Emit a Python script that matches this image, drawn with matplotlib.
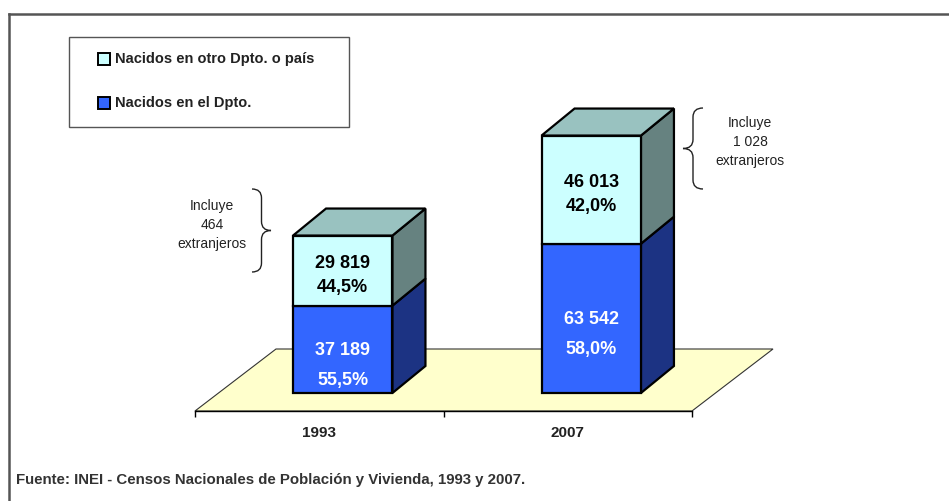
import numpy as np
import matplotlib.pyplot as plt
from matplotlib.patches import Polygon, Rectangle, PathPatch
from matplotlib.path import Path

# Poblacion censada por lugar de nacimiento
years = ['1993', '2007']
nacidos_dpto = np.array([37189, 63542])
nacidos_otro = np.array([29819, 46013])
pct_dpto = ['55,5%', '58,0%']
pct_otro = ['44,5%', '42,0%']
extranjeros = ['464', '1 028']

label_dpto = 'Nacidos en el Dpto.'
label_otro = 'Nacidos en otro Dpto. o país'
fuente = 'Fuente: INEI - Censos Nacionales de Población y Vivienda, 1993 y 2007.'

# colours (front, side, top)
C_OTRO = ('#CCFFFF', '#668280', '#99C2C0')
C_DPTO = ('#3366FF', '#1C3383', '#1C3383')
C_FLOOR = '#FFFFCC'
NARROW = ['Liberation Sans Narrow', 'Liberation Sans', 'DejaVu Sans']

W, H = 949, 501
fig = plt.figure(figsize=(W / 100, H / 100), dpi=100)

# background axes in pixel units for frame, legend, notes
bg = fig.add_axes([0, 0, 1, 1])
bg.set_xlim(0, W)
bg.set_ylim(H, 0)
bg.axis('off')

# main axes: x = category, y = persons
YMAX = 160000
ax = fig.add_axes([195 / W, (H - 411) / H, 497 / W, 376 / H])
ax.set_xlim(0, 2)
ax.set_ylim(0, YMAX)
ax.patch.set_visible(False)
px_x = 497 / 2
px_y = 376 / YMAX


def off(dx_px, dy_px):
    return dx_px / px_x, dy_px / px_y


# floor
fdx, fdy = off(81, 62)
ax.add_patch(Polygon([(0, 0), (2, 0), (2 + fdx, fdy), (fdx, fdy)], closed=True,
                     fc=C_FLOOR, ec='#333333', lw=0.8, clip_on=False, zorder=1))

bx0, by0 = off(23.5, 18)   # bar front sits a bit behind the floor edge
bdx, bdy = off(33, 27)     # bar depth
width = 0.4
pos = np.arange(len(years)) + 0.5


def block(xc, y0, y1, colors, with_top):
    xl = xc - width / 2 + bx0
    xr = xl + width
    b, t = y0 + by0, y1 + by0
    kw = dict(ec='black', lw=1.6, clip_on=False, zorder=3, joinstyle='miter')
    ax.add_patch(Polygon([(xr, b), (xr + bdx, b + bdy), (xr + bdx, t + bdy), (xr, t)],
                         closed=True, fc=colors[1], **kw))
    ax.add_patch(Rectangle((xl, b), width, y1 - y0, fc=colors[0], **kw))
    if with_top:
        ax.add_patch(Polygon([(xl, t), (xr, t), (xr + bdx, t + bdy), (xl + bdx, t + bdy)],
                             closed=True, fc=colors[2], **kw))
    return xl + width / 2, (b + t) / 2


def fmt(v):
    return f'{v:,}'.replace(',', ' ')


for i, xc in enumerate(pos):
    cx, cy = block(xc, 0, nacidos_dpto[i], C_DPTO, False)
    for txt, dy in [(fmt(nacidos_dpto[i]), 1), (pct_dpto[i], 31)]:
        ax.annotate(txt, (cx, cy), xytext=(0, -dy), textcoords='offset pixels',
                    ha='center', va='center', color='white', fontsize=13,
                    fontweight='bold', family='Liberation Sans', zorder=5)
    cx, cy = block(xc, nacidos_dpto[i], nacidos_dpto[i] + nacidos_otro[i], C_OTRO, True)
    for txt, dy in [(fmt(nacidos_otro[i]), -7.5), (pct_otro[i], 17)]:
        ax.annotate(txt, (cx, cy), xytext=(0, -dy), textcoords='offset pixels',
                    ha='center', va='center', color='black', fontsize=13,
                    fontweight='bold', family='Liberation Sans', zorder=5)

# x axis = front edge of the floor
for s in ['top', 'left', 'right']:
    ax.spines[s].set_visible(False)
ax.spines['bottom'].set_color('black')
ax.spines['bottom'].set_linewidth(1.0)
ax.spines['bottom'].set_zorder(2)
ax.set_yticks([])
ax.set_xticks([0, 1, 2], labels=['', '', ''])
ax.set_xticks(pos, labels=years, minor=True)
ax.tick_params(axis='x', which='major', direction='out', length=4, width=1, color='black')
ax.tick_params(axis='x', which='minor', length=0, pad=11)
for lab in ax.get_xticklabels(minor=True):
    lab.set_family(NARROW)
    lab.set_fontweight('bold')
    lab.set_fontsize(11)
    lab.set_color('#222222')

# frame lines
bg.plot([9, W], [14, 14], color='#555555', lw=1.8)
bg.plot([9, 9], [14, H], color='#555555', lw=1.8)

# legend
bg.add_patch(Rectangle((69, 37), 280, 90, fc='white', ec='#555555', lw=1.0))
for (lab, col), yy in zip([(label_otro, C_OTRO[0]), (label_dpto, C_DPTO[0])], [59, 103]):
    bg.add_patch(Rectangle((98, yy - 6), 12, 12, fc=col, ec='black', lw=1.4))
    bg.text(115, yy, lab, ha='left', va='center', fontsize=10.5, fontweight='bold',
            family=NARROW, color='#222222')


def brace(x_end, x_tip, y_top, y_bot, r=9):
    xm = (x_end + x_tip) / 2
    ym = (y_top + y_bot) / 2
    verts = [(x_end, y_top), (xm, y_top), (xm, y_top + r),
             (xm, ym - r), (xm, ym), (x_tip, ym),
             (xm, ym), (xm, ym + r),
             (xm, y_bot - r), (xm, y_bot), (x_end, y_bot)]
    codes = [Path.MOVETO, Path.CURVE3, Path.CURVE3,
             Path.LINETO, Path.CURVE3, Path.CURVE3,
             Path.CURVE3, Path.CURVE3,
             Path.LINETO, Path.CURVE3, Path.CURVE3]
    bg.add_patch(PathPatch(Path(verts, codes), fc='none', ec='#222222', lw=1.0))


brace(252, 271, 189, 272)
brace(703, 683, 108, 189)
for (xt, yt), n in zip([(212, 225), (750, 142)], extranjeros):
    bg.text(xt, yt, f'Incluye\n{n}\nextranjeros', ha='center', va='center',
            fontsize=10, family=NARROW, linespacing=1.45, color='#222222')

bg.text(16, 480, fuente, ha='left', va='center', fontsize=10.8, fontweight='bold',
        family=NARROW, color='#333333')

fig.savefig('out.png', dpi=100)
